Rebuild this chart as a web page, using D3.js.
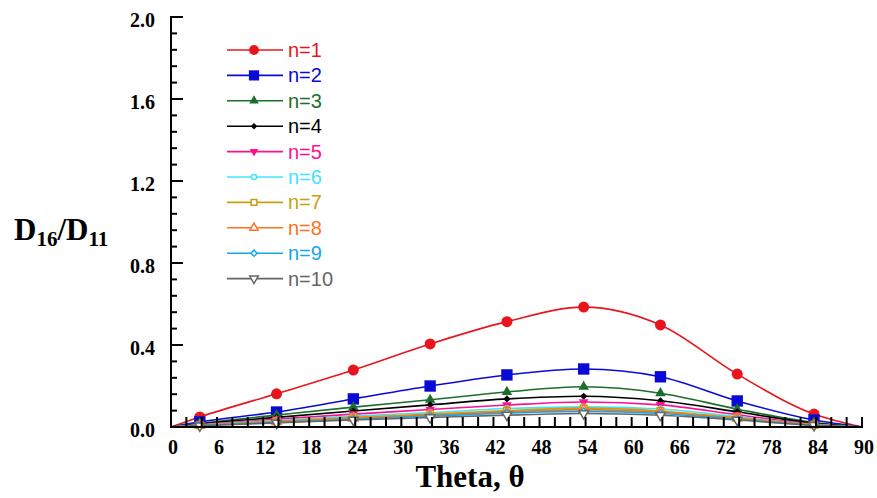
<!DOCTYPE html>
<html>
<head>
<meta charset="utf-8">
<script src="https://cdn.jsdelivr.net/npm/d3@7"></script>
<style>
  body { margin: 0; background: #fff; }
  svg { display: block; }
</style>
</head>
<body>
<div id="plot_area"></div>
<script>
// data
var theta = [0, 3.75, 13.75, 23.75, 33.75, 43.75, 53.75, 63.75, 73.75, 83.75, 90];
var n1  = [0, 0.049, 0.162, 0.278, 0.405, 0.514, 0.585, 0.498, 0.258, 0.063, 0];
var n2  = [0, 0.025, 0.073, 0.137, 0.200, 0.254, 0.283, 0.245, 0.127, 0.034, 0];
var n3  = [0, 0.018, 0.058, 0.097, 0.133, 0.171, 0.196, 0.165, 0.087, 0.022, 0];
var n4  = [0, 0.015, 0.047, 0.078, 0.108, 0.137, 0.150, 0.128, 0.074, 0.018, 0];
var n5  = [0, 0.012, 0.038, 0.063, 0.085, 0.107, 0.122, 0.108, 0.060, 0.014, 0];
var n6  = [0, 0.010, 0.032, 0.053, 0.070, 0.090, 0.098, 0.088, 0.050, 0.012, 0];
var n7  = [0, 0.009, 0.028, 0.047, 0.063, 0.080, 0.092, 0.078, 0.045, 0.011, 0];
var n8  = [0, 0.008, 0.025, 0.042, 0.058, 0.074, 0.085, 0.072, 0.042, 0.010, 0];
var n9  = [0, 0.007, 0.022, 0.038, 0.053, 0.068, 0.076, 0.066, 0.038, 0.009, 0];
var n10 = [0, 0.006, 0.020, 0.034, 0.046, 0.058, 0.066, 0.057, 0.034, 0.008, 0];

var names = ["n=1","n=2","n=3","n=4","n=5","n=6","n=7","n=8","n=9","n=10"];
var values = [n1, n2, n3, n4, n5, n6, n7, n8, n9, n10];
var colors = ["#e8161c","#0a0ad8","#1c6e2c","#000000","#ff1090","#40e4ff","#c8a010","#ff7022","#14a8e8","#666666"];

var xTicks = d3.range(0, 91, 6);
var yTicks = d3.range(0, 2.01, 0.4);

var width = 877, height = 498;

var svg = d3.select("#plot_area")
  .append("svg")
    .attr("width", width)
    .attr("height", height);

var x = d3.scaleLinear().domain([0, 90]).range([171, 862]);
var y = d3.scaleLinear().domain([0, 2]).range([427, 17]);

// marker shapes: [symbol, size, rotation, filled]
var marks = [
  [d3.symbolCircle, 95, 0, true],
  [d3.symbolSquare, 130, 0, true],
  [d3.symbolTriangle, 48, 0, true],
  [d3.symbolSquare, 26, 45, true],
  [d3.symbolTriangle, 40, 180, true],
  [d3.symbolCircle, 26, 0, false],
  [d3.symbolSquare, 42, 0, false],
  [d3.symbolTriangle, 36, 0, false],
  [d3.symbolSquare, 24, 45, false],
  [d3.symbolTriangle, 40, 180, false]
];

var line = d3.line()
  .x(function(d) { return x(d[0]); })
  .y(function(d) { return y(d[1]); })
  .curve(d3.curveMonotoneX);

// series
values.forEach(function(v, i) {
  var pts = theta.map(function(t, j) { return [t, v[j]]; });
  var g = svg.append("g");
  g.append("path")
    .attr("d", line(pts))
    .attr("fill", "none")
    .attr("stroke", colors[i])
    .attr("stroke-width", 1.6);

  var m = marks[i];
  g.selectAll("path.mk")
    .data(pts.slice(1, pts.length - 1))
    .enter()
    .append("path")
      .attr("class", "mk")
      .attr("d", d3.symbol().type(m[0]).size(m[1]))
      .attr("transform", function(d) {
        return "translate(" + x(d[0]) + "," + y(d[1]) + ") rotate(" + m[2] + ")";
      })
      .attr("fill", m[3] ? colors[i] : "#fff")
      .attr("stroke", colors[i])
      .attr("stroke-width", m[3] ? 0 : 1.5);
});

// X axis: ticks every 2 pointing up, labels every 6
var xAxis = svg.append("g");
xAxis.selectAll("line.tk")
  .data(d3.range(0, 91, 2))
  .enter()
  .append("line")
    .attr("x1", function(d) { return x(d); })
    .attr("x2", function(d) { return x(d); })
    .attr("y1", y(0))
    .attr("y2", y(0) - 10)
    .attr("stroke", "#000")
    .attr("stroke-width", 2);
xAxis.append("line")
  .attr("x1", x(0) - 1).attr("x2", x(90) + 1)
  .attr("y1", y(0)).attr("y2", y(0))
  .attr("stroke", "#000").attr("stroke-width", 2);
xAxis.selectAll("text")
  .data(xTicks)
  .enter()
  .append("text")
    .attr("x", function(d) { return x(d) + 2; })
    .attr("y", 454)
    .attr("text-anchor", "middle")
    .style("font-family", "'Liberation Serif', 'Times New Roman', serif")
    .style("font-weight", "bold")
    .style("font-size", "20px")
    .text(function(d) { return d; });

// Y axis: minor every 0.08, major every 0.4
var yAxis = svg.append("g");
yAxis.selectAll("line.tk")
  .data(d3.range(0, 26))
  .enter()
  .append("line")
    .attr("x1", x(0))
    .attr("x2", function(d) { return x(0) + (d % 5 === 0 ? 12 : 6); })
    .attr("y1", function(d) { return y(d * 0.08); })
    .attr("y2", function(d) { return y(d * 0.08); })
    .attr("stroke", "#000")
    .attr("stroke-width", 2);
yAxis.append("line")
  .attr("x1", x(0)).attr("x2", x(0))
  .attr("y1", y(0) + 1).attr("y2", y(2) - 1)
  .attr("stroke", "#000").attr("stroke-width", 2);
yAxis.selectAll("text")
  .data(yTicks)
  .enter()
  .append("text")
    .attr("x", 155)
    .attr("y", function(d) { return y(d) + 10; })
    .attr("text-anchor", "end")
    .style("font-family", "'Liberation Serif', 'Times New Roman', serif")
    .style("font-weight", "bold")
    .style("font-size", "20px")
    .text(function(d) { return d3.format(".1f")(d); });

// axis titles
svg.append("text")
  .attr("x", 470)
  .attr("y", 487)
  .attr("text-anchor", "middle")
  .style("font-family", "'Liberation Serif', 'Times New Roman', serif")
  .style("font-weight", "bold")
  .style("font-size", "31px")
  .text("Theta, θ");

var yl = svg.append("text")
  .attr("x", 14)
  .attr("y", 240)
  .style("font-family", "'Liberation Serif', 'Times New Roman', serif")
  .style("font-weight", "bold")
  .style("font-size", "31px");
yl.append("tspan").text("D");
yl.append("tspan").attr("dy", 6).style("font-size", "21px").text("16");
yl.append("tspan").attr("dy", -6).text("/D");
yl.append("tspan").attr("dy", 6).style("font-size", "21px").text("11");

// legend
var legend = svg.append("g");
names.forEach(function(nm, i) {
  var ly = 50 + i * 25.4;
  var m = marks[i];
  legend.append("line")
    .attr("x1", 227).attr("x2", 283)
    .attr("y1", ly).attr("y2", ly)
    .attr("stroke", colors[i]).attr("stroke-width", 1.6);
  legend.append("path")
    .attr("d", d3.symbol().type(m[0]).size(m[1] * 0.8)())
    .attr("transform", "translate(254," + ly + ") rotate(" + m[2] + ")")
    .attr("fill", m[3] ? colors[i] : "#fff")
    .attr("stroke", colors[i])
    .attr("stroke-width", m[3] ? 0 : 1.5);
  legend.append("text")
    .attr("x", 288)
    .attr("y", ly + 7)
    .attr("fill", colors[i])
    .style("font-family", "'Liberation Sans', Arial, sans-serif")
    .style("font-size", "20px")
    .text(nm);
});
</script>
</body>
</html>
